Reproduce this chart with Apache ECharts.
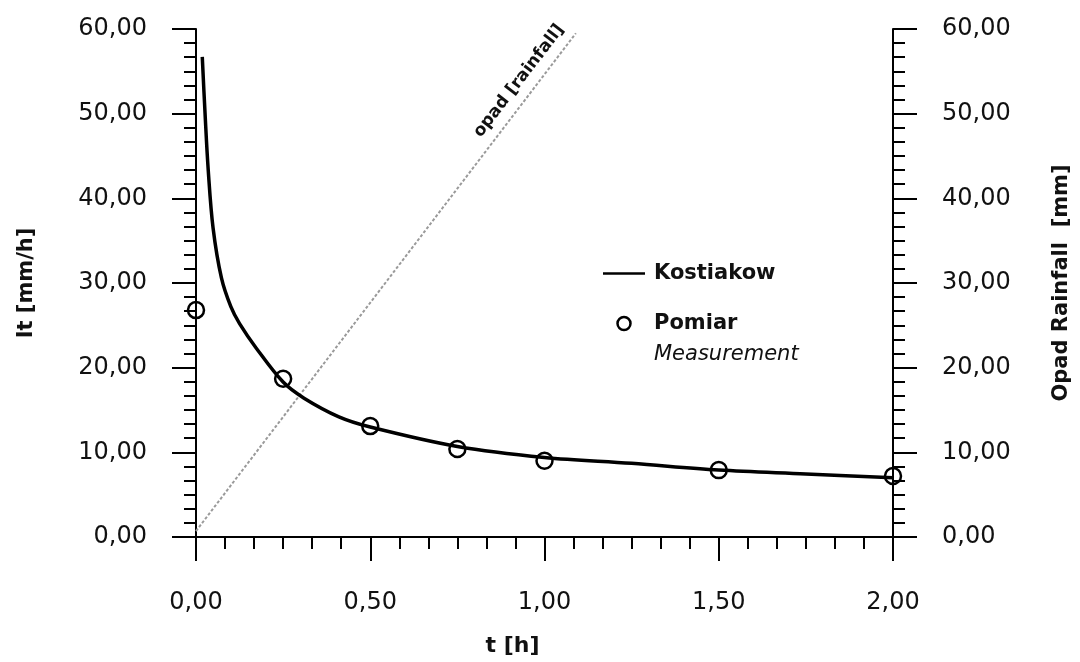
<!DOCTYPE html>
<html>
<head>
<meta charset="utf-8">
<script src="https://cdn.jsdelivr.net/npm/echarts@6/dist/echarts.min.js"></script>
<style>
  html, body { margin: 0; padding: 0; background: #fff; }
  #chart { width: 1080px; height: 662px; }
</style>
</head>
<body>
<div id="chart"></div>
<script>
// values
let xTickLabels = ['0,00', '0,50', '1,00', '1,50', '2,00']
let yTickLabels = ['0,00', '10,00', '20,00', '30,00', '40,00', '50,00', '60,00']

// Kostiakow fitted curve, t [h] -> It [mm/h]
let curveT = [0.018, 0.026, 0.035, 0.049, 0.073, 0.1, 0.125, 0.173, 0.25, 0.31, 0.41, 0.5, 0.75, 1.0, 1.25, 1.5, 1.75, 2.0]
let curveI = [56.7, 50.0, 43.4, 36.5, 30.6, 27.2, 25.2, 22.3, 18.3, 16.4, 14.2, 13.0, 10.7, 9.4, 8.7, 7.9, 7.45, 7.0]

// Pomiar / Measurement
let measT = [0, 0.25, 0.5, 0.75, 1.0, 1.5, 2.0]
let measI = [26.8, 18.7, 13.1, 10.4, 9.0, 7.9, 7.2]

// opad [rainfall], right axis [mm]
let rainT = [0, 1.09]
let rainP = [0.7, 59.5]

let font = 'DejaVu Sans'
let ink = '#111'

function pairs(xs, ys) {
  return xs.map((x, i) => [x, ys[i]])
}

let chart = echarts.init(document.getElementById('chart'), null, { renderer: 'canvas' })

let yAxisBase = {
  type: 'value',
  min: 0,
  max: 60,
  interval: 10,
  nameLocation: 'middle',
  nameRotate: 90,
  nameGap: 159,
  nameTextStyle: { fontFamily: font, fontWeight: 'bold', fontSize: 21, color: ink },
  axisLine: { show: true, lineStyle: { color: '#000', width: 2 } },
  axisTick: { show: true, length: 24, lineStyle: { color: '#000', width: 2 } },
  minorTick: { show: true, splitNumber: 6, length: 12, lineStyle: { color: '#000', width: 2 } },
  splitLine: { show: false },
  axisLabel: {
    margin: 49,
    fontFamily: font,
    fontSize: 24,
    color: ink,
    formatter: (v, i) => yTickLabels[i]
  }
}

option = {
  backgroundColor: '#fff',
  animation: false,
  grid: { left: 196, right: 183, top: 29, bottom: 123 },
  xAxis: {
    type: 'value',
    min: 0,
    max: 2,
    interval: 0.5,
    name: 't [h]',
    nameLocation: 'middle',
    nameGap: 98,
    nameTextStyle: { fontFamily: font, fontWeight: 'bold', fontSize: 22, color: ink, padding: [0, 64, 0, 0] },
    axisLine: { onZero: false, lineStyle: { color: '#000', width: 2 } },
    axisTick: { length: 24, lineStyle: { color: '#000', width: 2 } },
    minorTick: { show: true, splitNumber: 6, length: 12, lineStyle: { color: '#000', width: 2 } },
    splitLine: { show: false },
    axisLabel: {
      margin: 54,
      fontFamily: font,
      fontSize: 24,
      color: ink,
      formatter: (v, i) => xTickLabels[i]
    }
  },
  yAxis: [
    Object.assign({}, yAxisBase, { name: 'It [mm/h]', position: 'left' }),
    Object.assign({}, yAxisBase, { name: 'Opad Rainfall  [mm]', position: 'right', nameGap: 158 })
  ],
  legend: {
    orient: 'vertical',
    left: 598,
    top: 258,
    itemWidth: 42,
    itemHeight: 13,
    itemGap: 29,
    selectedMode: false,
    textStyle: { fontFamily: font, fontWeight: 'bold', fontSize: 21, color: ink, padding: [0, 0, 0, 4] },
    data: [
      { name: 'Kostiakow', icon: 'path://M0,0 L42,0 L42,2.5 L0,2.5 Z', itemStyle: { color: '#000', borderWidth: 0 } },
      { name: 'Pomiar', icon: 'circle', itemStyle: { color: 'rgba(255,255,255,0)', borderColor: '#000', borderWidth: 2.5 } }
    ]
  },
  series: [
    {
      name: 'opad [rainfall]',
      type: 'line',
      yAxisIndex: 1,
      symbol: 'none',
      silent: true,
      lineStyle: { color: '#9a9a9a', width: 2, type: [3, 2] },
      data: pairs(rainT, rainP)
    },
    {
      name: 'Kostiakow',
      type: 'line',
      yAxisIndex: 0,
      symbol: 'none',
      smooth: 0.35,
      lineStyle: { color: '#000', width: 3.5 },
      itemStyle: { color: '#000' },
      data: pairs(curveT, curveI)
    },
    {
      name: 'Pomiar',
      type: 'scatter',
      yAxisIndex: 0,
      symbol: 'circle',
      symbolSize: 16,
      itemStyle: { color: 'rgba(255,255,255,0)', borderColor: '#000', borderWidth: 2.5, opacity: 1 },
      data: pairs(measT, measI)
    }
  ],
  graphic: [
    {
      type: 'text',
      left: 654,
      top: 344,
      style: { text: 'Measurement', fontFamily: font, fontStyle: 'italic', fontSize: 21, fill: ink }
    },
    {
      type: 'text',
      x: 519,
      y: 81,
      rotation: 0.915,
      style: {
        text: 'opad [rainfall]',
        fontFamily: font,
        fontWeight: 'bold',
        fontSize: 17,
        fill: ink,
        align: 'center',
        verticalAlign: 'middle'
      }
    }
  ]
}

chart.setOption(option)
</script>
</body>
</html>
